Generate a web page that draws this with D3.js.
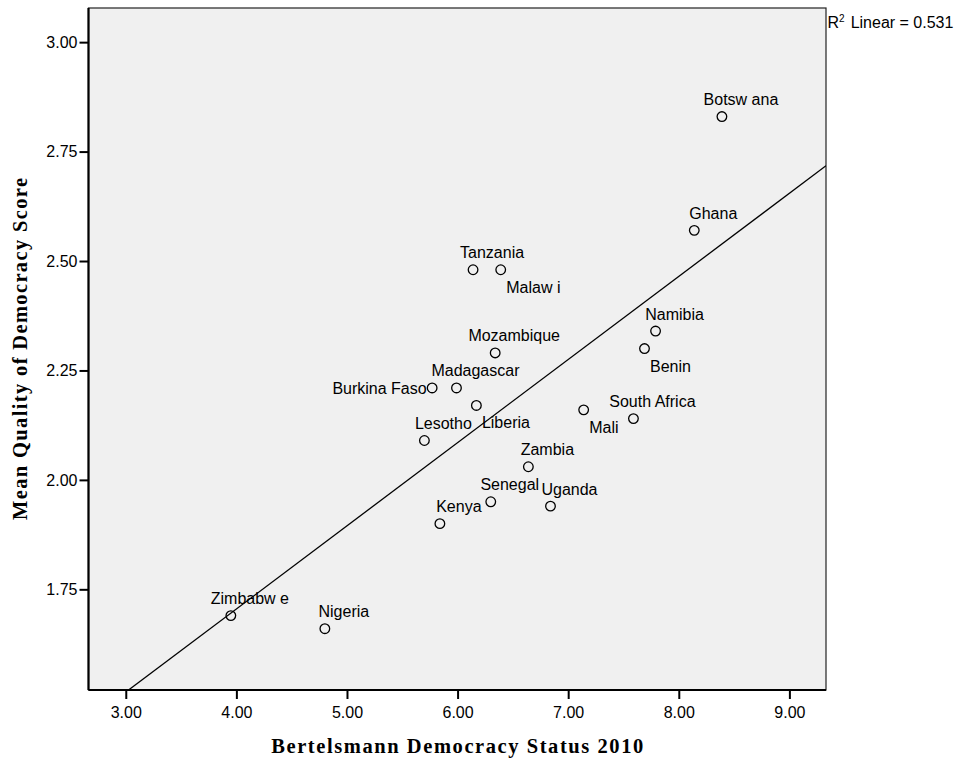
<!DOCTYPE html>
<html>
<head>
<meta charset="utf-8">
<script src="https://cdn.jsdelivr.net/npm/d3@7"></script>
<style>
  html, body { margin: 0; padding: 0; background: #fff; }
  #chart { width: 958px; height: 760px; }
</style>
</head>
<body>
<div id="chart"></div>
<script>
// values
const countries = ["Botsw ana", "Ghana", "Tanzania", "Malaw i", "Namibia", "Benin", "Mozambique",
  "Burkina Faso", "Madagascar", "Liberia", "Mali", "South Africa", "Lesotho", "Zambia",
  "Senegal", "Uganda", "Kenya", "Zimbabw e", "Nigeria"];
const democracyStatus = [8.39, 8.14, 6.14, 6.39, 7.79, 7.69, 6.34,
  5.77, 5.99, 6.17, 7.14, 7.59, 5.70, 6.64,
  6.30, 6.84, 5.84, 3.95, 4.80];
const qualityScore = [2.83, 2.57, 2.48, 2.48, 2.34, 2.30, 2.29,
  2.21, 2.21, 2.17, 2.16, 2.14, 2.09, 2.03,
  1.95, 1.94, 1.90, 1.69, 1.66];
const xTicks = [3, 4, 5, 6, 7, 8, 9];
const yTicks = [1.75, 2.0, 2.25, 2.5, 2.75, 3.0];
const rSquared = "0.531";
const xTitle = "Bertelsmann Democracy Status 2010";
const yTitle = "Mean Quality of Democracy Score";

window.addEventListener("load", () => {
  const width = 958;
  const height = 760;
  const plot = { left: 88.5, right: 826, top: 8, bottom: 690 };

  const sans = "'Liberation Sans', Arial, sans-serif";
  const serif = "'Liberation Serif', 'Times New Roman', serif";

  const svg = d3.select("#chart")
    .append("svg")
    .attr("width", width)
    .attr("height", height);

  const x = d3.scaleLinear().domain([2.663, 9.331]).range([plot.left, plot.right]);
  const y = d3.scaleLinear().domain([1.52, 3.078]).range([plot.bottom, plot.top]);

  // plot background
  svg.append("rect")
    .attr("x", plot.left)
    .attr("y", plot.top)
    .attr("width", plot.right - plot.left)
    .attr("height", plot.bottom - plot.top)
    .attr("fill", "#f0f0f0")
    .attr("stroke", "#222")
    .attr("stroke-width", 1.2);

  svg.append("defs").append("clipPath")
    .attr("id", "plot-clip")
    .append("rect")
    .attr("x", plot.left)
    .attr("y", plot.top)
    .attr("width", plot.right - plot.left)
    .attr("height", plot.bottom - plot.top);

  // axes
  const xAxis = svg.append("g")
    .attr("transform", `translate(0,${plot.bottom})`)
    .call(d3.axisBottom(x).tickValues(xTicks).tickSize(9).tickPadding(7).tickFormat(d3.format(".2f")));
  const yAxis = svg.append("g")
    .attr("transform", `translate(${plot.left},0)`)
    .call(d3.axisLeft(y).tickValues(yTicks).tickSize(9).tickPadding(2).tickFormat(d3.format(".2f")));

  [xAxis, yAxis].forEach(g => {
    g.select(".domain").attr("stroke", "#000").attr("stroke-width", 2.2);
    g.selectAll(".tick line").attr("stroke", "#000").attr("stroke-width", 2);
    g.selectAll(".tick text")
      .attr("fill", "#000")
      .style("font-family", sans)
      .style("font-size", "16px");
  });
  xAxis.select(".domain").attr("d", `M${plot.left},0H${plot.right}`);
  yAxis.select(".domain").attr("d", `M0,${plot.top}V${plot.bottom}`);
  xAxis.selectAll(".tick text").attr("dy", "0.75em");

  // least squares fit line
  const mx = d3.mean(democracyStatus);
  const my = d3.mean(qualityScore);
  const sxy = d3.sum(democracyStatus, (v, i) => (v - mx) * (qualityScore[i] - my));
  const sxx = d3.sum(democracyStatus, v => (v - mx) * (v - mx));
  const slope = sxy / sxx;
  const intercept = my - slope * mx;
  const [x0, x1] = x.domain();

  svg.append("line")
    .attr("clip-path", "url(#plot-clip)")
    .attr("x1", x(x0))
    .attr("y1", y(intercept + slope * x0))
    .attr("x2", x(x1))
    .attr("y2", y(intercept + slope * x1))
    .attr("stroke", "#000")
    .attr("stroke-width", 1.3);

  // points
  const pts = countries.map((name, i) => ({ name, vx: democracyStatus[i], vy: qualityScore[i] }));

  svg.append("g")
    .selectAll("circle")
    .data(pts)
    .join("circle")
    .attr("cx", d => x(d.vx))
    .attr("cy", d => y(d.vy))
    .attr("r", 4.8)
    .attr("fill", "none")
    .attr("stroke", "#000")
    .attr("stroke-width", 1.3);

  // label placement as drawn by the original
  const belowLabels = new Set(["Malaw i", "Benin", "Liberia", "Mali"]);
  const leftLabels = new Set(["Burkina Faso"]);

  svg.append("g")
    .selectAll("text")
    .data(pts)
    .join("text")
    .attr("x", d => {
      if (leftLabels.has(d.name)) return x(d.vx) - 5.5;
      if (belowLabels.has(d.name)) return x(d.vx) + 5.5;
      return x(d.vx) + 19;
    })
    .attr("y", d => {
      if (leftLabels.has(d.name)) return y(d.vy) + 6;
      if (belowLabels.has(d.name)) return y(d.vy) + 23;
      return y(d.vy) - 11.5;
    })
    .attr("text-anchor", d => leftLabels.has(d.name) ? "end" : belowLabels.has(d.name) ? "start" : "middle")
    .style("font-family", sans)
    .style("font-size", "16px")
    .attr("fill", "#000")
    .text(d => d.name);

  // R squared note
  const rNote = svg.append("text")
    .attr("x", 827.5)
    .attr("y", 28)
    .style("font-family", sans)
    .style("font-size", "16px")
    .attr("fill", "#000");
  rNote.append("tspan").text("R");
  rNote.append("tspan").attr("dy", -6).style("font-size", "10px").text("2");
  rNote.append("tspan").attr("dy", 6).attr("dx", 6).text(`Linear = ${rSquared}`);

  // axis titles
  svg.append("text")
    .attr("x", (plot.left + plot.right) / 2)
    .attr("y", 753)
    .attr("text-anchor", "middle")
    .attr("textLength", 372)
    .attr("lengthAdjust", "spacing")
    .style("font-family", serif)
    .style("font-weight", "bold")
    .style("font-size", "20.5px")
    .attr("fill", "#000")
    .text(xTitle);

  svg.append("text")
    .attr("transform", `translate(27,${(plot.top + plot.bottom) / 2}) rotate(-90)`)
    .attr("text-anchor", "middle")
    .attr("textLength", 342)
    .attr("lengthAdjust", "spacing")
    .style("font-family", serif)
    .style("font-weight", "bold")
    .style("font-size", "20.5px")
    .attr("fill", "#000")
    .text(yTitle);
});
</script>
</body>
</html>
